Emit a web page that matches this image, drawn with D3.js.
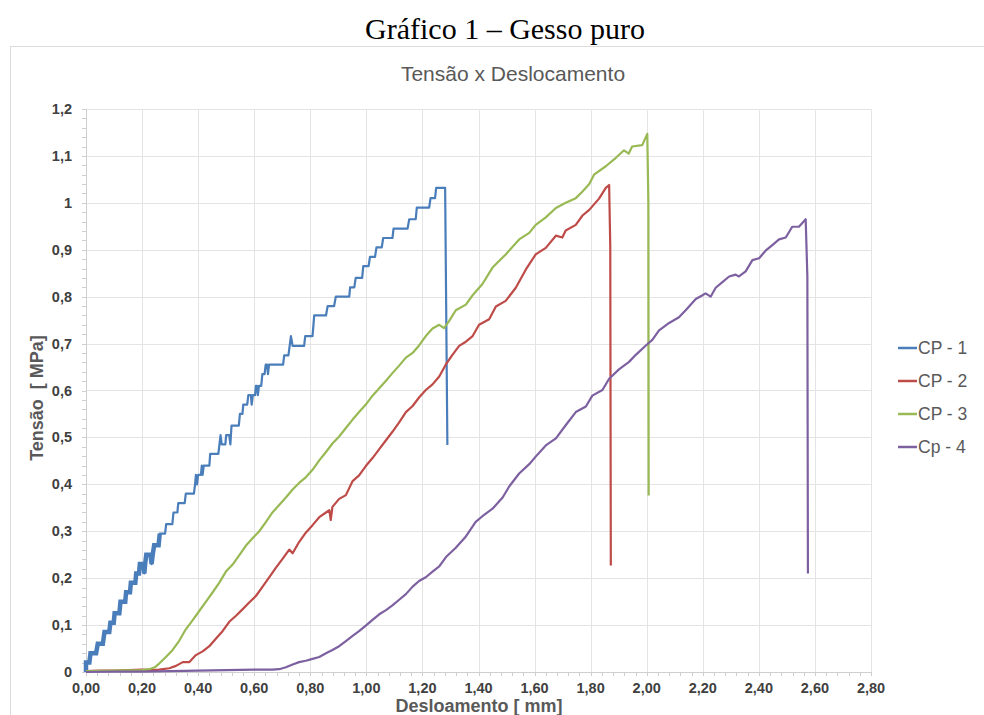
<!DOCTYPE html>
<html lang="pt">
<head>
  <meta charset="UTF-8">
  <title>Gráfico 1 – Gesso puro</title>
  <style>
    body { margin: 0; background: #fff; }
    #chart { display: block; }
  </style>
</head>
<body>
  <svg id="chart"></svg>

  <script src="https://d3js.org/d3.v7.min.js"></script>
  <script>
    // Chart dimensions
    const width = 984;
    const height = 715;
    const margin = { top: 109, right: 113, bottom: 43, left: 86 };

    // Data (deslocamento [mm], tensão [MPa])
    const seriesNames = ["CP - 1", "CP - 2", "CP - 3", "Cp - 4"];
    const seriesColors = ["#4a7ebb", "#be4b48", "#98b954", "#7d60a0"];

    const cp1 = [
      [0.000,0.000],[0.000,0.020],[0.012,0.020],[0.016,0.040],[0.036,0.040],[0.042,0.060],
      [0.060,0.060],[0.066,0.085],[0.083,0.085],[0.087,0.105],[0.099,0.105],[0.102,0.125],
      [0.119,0.125],[0.123,0.150],[0.140,0.150],[0.143,0.170],[0.157,0.170],[0.160,0.190],
      [0.176,0.190],[0.179,0.210],[0.189,0.210],[0.192,0.230],[0.205,0.230],[0.208,0.210],
      [0.211,0.230],[0.215,0.250],[0.230,0.250],[0.234,0.230],[0.238,0.250],[0.243,0.270],
      [0.259,0.270],[0.263,0.295],[0.282,0.295],[0.286,0.315],[0.308,0.315],[0.312,0.340],
      [0.326,0.340],[0.329,0.360],[0.352,0.360],[0.356,0.380],[0.385,0.380],[0.389,0.400],
      [0.392,0.420],[0.396,0.400],[0.400,0.420],[0.410,0.420],[0.413,0.440],[0.416,0.420],
      [0.420,0.440],[0.440,0.440],[0.443,0.465],[0.472,0.465],[0.476,0.485],[0.480,0.505],
      [0.484,0.485],[0.497,0.485],[0.500,0.505],[0.511,0.505],[0.515,0.485],[0.519,0.525],
      [0.545,0.525],[0.549,0.550],[0.558,0.550],[0.561,0.570],[0.575,0.570],[0.579,0.590],
      [0.588,0.590],[0.591,0.570],[0.595,0.590],[0.603,0.590],[0.606,0.610],[0.610,0.610],
      [0.613,0.590],[0.617,0.610],[0.625,0.610],[0.629,0.635],[0.637,0.635],[0.641,0.655],
      [0.646,0.655],[0.649,0.635],[0.653,0.655],[0.703,0.655],[0.707,0.675],[0.722,0.675],
      [0.731,0.716],[0.737,0.695],[0.778,0.695],[0.782,0.716],[0.808,0.716],[0.814,0.760],
      [0.856,0.760],[0.862,0.780],[0.885,0.780],[0.891,0.800],[0.939,0.800],[0.942,0.820],
      [0.957,0.820],[0.962,0.840],[0.985,0.840],[0.989,0.865],[1.008,0.865],[1.013,0.885],
      [1.031,0.885],[1.036,0.905],[1.055,0.905],[1.060,0.925],[1.093,0.925],[1.097,0.945],
      [1.147,0.945],[1.153,0.965],[1.176,0.965],[1.180,0.990],[1.224,0.990],[1.229,1.010],
      [1.245,1.010],[1.249,1.032],[1.281,1.032],[1.289,0.484]
    ];

    const cp2 = [
      [0.000,0.002],[0.050,0.003],[0.100,0.003],[0.150,0.004],[0.200,0.005],[0.240,0.004],
      [0.261,0.005],[0.297,0.008],[0.321,0.013],[0.345,0.021],[0.368,0.021],[0.392,0.036],
      [0.416,0.044],[0.440,0.055],[0.463,0.071],[0.487,0.087],[0.511,0.107],[0.535,0.120],
      [0.559,0.134],[0.582,0.148],[0.606,0.162],[0.630,0.182],[0.654,0.202],[0.677,0.222],
      [0.701,0.241],[0.725,0.261],[0.737,0.253],[0.760,0.277],[0.784,0.297],[0.808,0.313],
      [0.832,0.330],[0.856,0.340],[0.868,0.345],[0.873,0.324],[0.879,0.352],[0.903,0.369],
      [0.927,0.377],[0.951,0.407],[0.974,0.419],[0.998,0.439],[1.022,0.456],[1.046,0.475],
      [1.070,0.494],[1.093,0.512],[1.117,0.532],[1.141,0.554],[1.165,0.567],[1.188,0.585],
      [1.212,0.601],[1.236,0.613],[1.260,0.630],[1.283,0.655],[1.307,0.676],[1.331,0.695],
      [1.355,0.704],[1.379,0.716],[1.402,0.740],[1.438,0.752],[1.462,0.779],[1.497,0.791],
      [1.533,0.819],[1.569,0.858],[1.604,0.890],[1.640,0.904],[1.676,0.930],[1.699,0.926],
      [1.711,0.941],[1.747,0.953],[1.771,0.973],[1.795,0.985],[1.830,1.009],[1.854,1.032],
      [1.866,1.038],[1.870,0.906],[1.872,0.227]
    ];

    const cp3 = [
      [0.000,0.002],[0.100,0.003],[0.200,0.004],[0.226,0.006],[0.245,0.010],[0.261,0.018],
      [0.285,0.032],[0.309,0.047],[0.333,0.067],[0.356,0.091],[0.380,0.110],[0.404,0.130],
      [0.428,0.150],[0.452,0.170],[0.475,0.190],[0.499,0.214],[0.523,0.229],[0.547,0.249],
      [0.570,0.269],[0.594,0.285],[0.618,0.300],[0.642,0.320],[0.665,0.340],[0.689,0.356],
      [0.713,0.372],[0.737,0.389],[0.760,0.403],[0.784,0.415],[0.808,0.431],[0.832,0.451],
      [0.856,0.469],[0.879,0.487],[0.903,0.502],[0.927,0.520],[0.951,0.538],[0.974,0.554],
      [0.998,0.570],[1.022,0.589],[1.046,0.605],[1.070,0.621],[1.093,0.637],[1.117,0.653],
      [1.141,0.670],[1.165,0.680],[1.188,0.696],[1.212,0.716],[1.236,0.732],[1.260,0.740],
      [1.277,0.733],[1.295,0.748],[1.319,0.771],[1.355,0.783],[1.379,0.803],[1.414,0.827],
      [1.450,0.862],[1.497,0.890],[1.545,0.922],[1.581,0.936],[1.604,0.953],[1.640,0.969],
      [1.676,0.989],[1.711,1.000],[1.747,1.010],[1.771,1.024],[1.795,1.040],[1.812,1.060],
      [1.854,1.078],[1.890,1.096],[1.919,1.112],[1.936,1.105],[1.948,1.120],[1.984,1.123],
      [2.002,1.147],[2.006,1.000],[2.007,0.376]
    ];

    const cp4 = [
      [0.000,0.000],[0.100,0.001],[0.200,0.001],[0.300,0.002],[0.400,0.003],[0.500,0.004],
      [0.600,0.005],[0.665,0.005],[0.689,0.006],[0.713,0.010],[0.737,0.016],[0.760,0.021],
      [0.784,0.024],[0.808,0.028],[0.832,0.032],[0.856,0.040],[0.879,0.047],[0.903,0.055],
      [0.927,0.066],[0.951,0.077],[0.974,0.087],[0.998,0.099],[1.022,0.111],[1.046,0.123],
      [1.070,0.132],[1.093,0.142],[1.117,0.154],[1.141,0.166],[1.165,0.182],[1.188,0.194],
      [1.212,0.202],[1.236,0.214],[1.260,0.225],[1.284,0.245],[1.319,0.265],[1.355,0.289],
      [1.390,0.320],[1.414,0.332],[1.450,0.348],[1.486,0.372],[1.510,0.396],[1.545,0.423],
      [1.581,0.443],[1.604,0.459],[1.640,0.483],[1.676,0.498],[1.711,0.526],[1.747,0.554],
      [1.783,0.566],[1.806,0.589],[1.842,0.601],[1.866,0.625],[1.901,0.645],[1.937,0.661],
      [1.961,0.676],[1.997,0.696],[2.020,0.708],[2.044,0.728],[2.080,0.744],[2.115,0.756],
      [2.139,0.771],[2.175,0.795],[2.199,0.803],[2.210,0.807],[2.228,0.800],[2.246,0.819],
      [2.270,0.831],[2.294,0.843],[2.317,0.847],[2.329,0.843],[2.353,0.854],[2.377,0.878],
      [2.401,0.882],[2.424,0.898],[2.448,0.910],[2.472,0.922],[2.496,0.926],[2.519,0.949],
      [2.543,0.949],[2.555,0.957],[2.567,0.965],[2.573,0.843],[2.575,0.210]
    ];

    const seriesData = [cp1, cp2, cp3, cp4];

    // Tick values
    const xTicks = d3.range(0, 2.801, 0.2);
    const yTicks = d3.range(0, 1.201, 0.1);
    const xMinorTicks = d3.range(0, 2.801, 0.04);
    const yMinorTicks = d3.range(0, 1.201, 0.02);

    const fmtX = v => d3.format(".2f")(v).replace(".", ",");
    const fmtY = v => {
      const r = Math.round(v * 10) / 10;
      return (r === 0 || r === 1) ? String(r) : d3.format(".1f")(r).replace(".", ",");
    };

    const innerW = width - margin.left - margin.right;
    const innerH = height - margin.top - margin.bottom;

    const xScale = d3.scaleLinear().domain([0, 2.8]).range([0, innerW]);
    const yScale = d3.scaleLinear().domain([0, 1.2]).range([innerH, 0]);

    const svg = d3.select("#chart")
      .attr("width", width)
      .attr("height", height)
      .style("font-family", "Liberation Sans, Arial, sans-serif");

    svg.append("rect").attr("width", width).attr("height", height).attr("fill", "#fff");

    // Outer chart frame
    svg.append("rect")
      .attr("x", 10.5).attr("y", 46.5)
      .attr("width", 1000).attr("height", 700)
      .attr("fill", "none")
      .attr("stroke", "#dcdcdc");

    // Document caption
    svg.append("text")
      .attr("x", 505).attr("y", 39)
      .attr("text-anchor", "middle")
      .style("font-family", "Liberation Serif, Times New Roman, serif")
      .style("font-size", "30px")
      .attr("fill", "#000")
      .text("Gráfico 1 – Gesso puro");

    // Chart title
    svg.append("text")
      .attr("x", 513).attr("y", 81)
      .attr("text-anchor", "middle")
      .style("font-size", "21px")
      .attr("fill", "#595959")
      .text("Tensão x Deslocamento");

    const g = svg.append("g")
      .attr("transform", `translate(${margin.left}, ${margin.top})`);

    // Gridlines
    g.append("g")
      .selectAll("line")
      .data(yTicks)
      .join("line")
      .attr("x1", 0).attr("x2", innerW)
      .attr("y1", d => Math.round(yScale(d)) + 0.5)
      .attr("y2", d => Math.round(yScale(d)) + 0.5)
      .attr("stroke", "#e4e4e4");

    g.append("g")
      .selectAll("line")
      .data(xTicks)
      .join("line")
      .attr("y1", 0).attr("y2", innerH)
      .attr("x1", d => Math.round(xScale(d)) + 0.5)
      .attr("x2", d => Math.round(xScale(d)) + 0.5)
      .attr("stroke", "#e4e4e4");

    // Minor ticks
    g.append("g")
      .selectAll("line")
      .data(xMinorTicks)
      .join("line")
      .attr("x1", d => Math.round(xScale(d)) + 0.5)
      .attr("x2", d => Math.round(xScale(d)) + 0.5)
      .attr("y1", innerH).attr("y2", innerH + 4)
      .attr("stroke", "#cfcfcf");

    g.append("g")
      .selectAll("line")
      .data(yMinorTicks)
      .join("line")
      .attr("y1", d => Math.round(yScale(d)) + 0.5)
      .attr("y2", d => Math.round(yScale(d)) + 0.5)
      .attr("x1", -4).attr("x2", 0)
      .attr("stroke", "#cfcfcf");

    // Axes lines
    g.append("line")
      .attr("x1", 0).attr("x2", innerW)
      .attr("y1", innerH + 0.5).attr("y2", innerH + 0.5)
      .attr("stroke", "#cfcfcf");
    g.append("line")
      .attr("x1", 0.5).attr("x2", 0.5)
      .attr("y1", 0).attr("y2", innerH)
      .attr("stroke", "#cfcfcf");

    // Tick labels
    g.append("g")
      .selectAll("text")
      .data(xTicks)
      .join("text")
      .attr("x", d => xScale(d))
      .attr("y", innerH + 21)
      .attr("text-anchor", "middle")
      .style("font-size", "14.5px")
      .style("font-weight", "bold")
      .attr("fill", "#404040")
      .text(fmtX);

    g.append("g")
      .selectAll("text")
      .data(yTicks)
      .join("text")
      .attr("x", -14)
      .attr("y", d => yScale(d) + 5)
      .attr("text-anchor", "end")
      .style("font-size", "14.5px")
      .style("font-weight", "bold")
      .attr("fill", "#404040")
      .text(fmtY);

    // Axis titles
    svg.append("text")
      .attr("x", 479).attr("y", 712)
      .attr("text-anchor", "middle")
      .style("font-size", "18px")
      .style("font-weight", "bold")
      .attr("fill", "#595959")
      .text("Desloamento [ mm]");

    svg.append("text")
      .attr("transform", "translate(43, 398) rotate(-90)")
      .attr("text-anchor", "middle")
      .style("font-size", "18px")
      .style("font-weight", "bold")
      .attr("fill", "#595959")
      .attr("xml:space", "preserve")
      .text("Tensão  [ MPa]");

    // Lines
    const line = d3.line()
      .x(d => xScale(d[0]))
      .y(d => yScale(d[1]));

    // CP - 1 is noisy at low loads: the early steps look thick
    g.append("path")
      .datum(cp1.filter(d => d[0] <= 0.27))
      .attr("d", line)
      .attr("fill", "none")
      .attr("stroke", seriesColors[0])
      .attr("stroke-width", 4.5);

    g.selectAll(".series")
      .data(seriesData)
      .join("path")
      .attr("class", "series")
      .attr("d", line)
      .attr("fill", "none")
      .attr("stroke", (d, i) => seriesColors[i])
      .attr("stroke-width", 2.2)
      .attr("stroke-linejoin", "round");

    // Legend
    const legend = svg.append("g")
      .attr("transform", "translate(898, 348)");

    const items = legend.selectAll("g")
      .data(seriesNames)
      .join("g")
      .attr("transform", (d, i) => `translate(0, ${i * 33})`);

    items.append("line")
      .attr("x1", 0).attr("x2", 19)
      .attr("stroke", (d, i) => seriesColors[i])
      .attr("stroke-width", 2.5);

    items.append("text")
      .attr("x", 20).attr("y", 6)
      .style("font-size", "17.5px")
      .attr("fill", "#595959")
      .text(d => d);
  </script>
</body>
</html>
